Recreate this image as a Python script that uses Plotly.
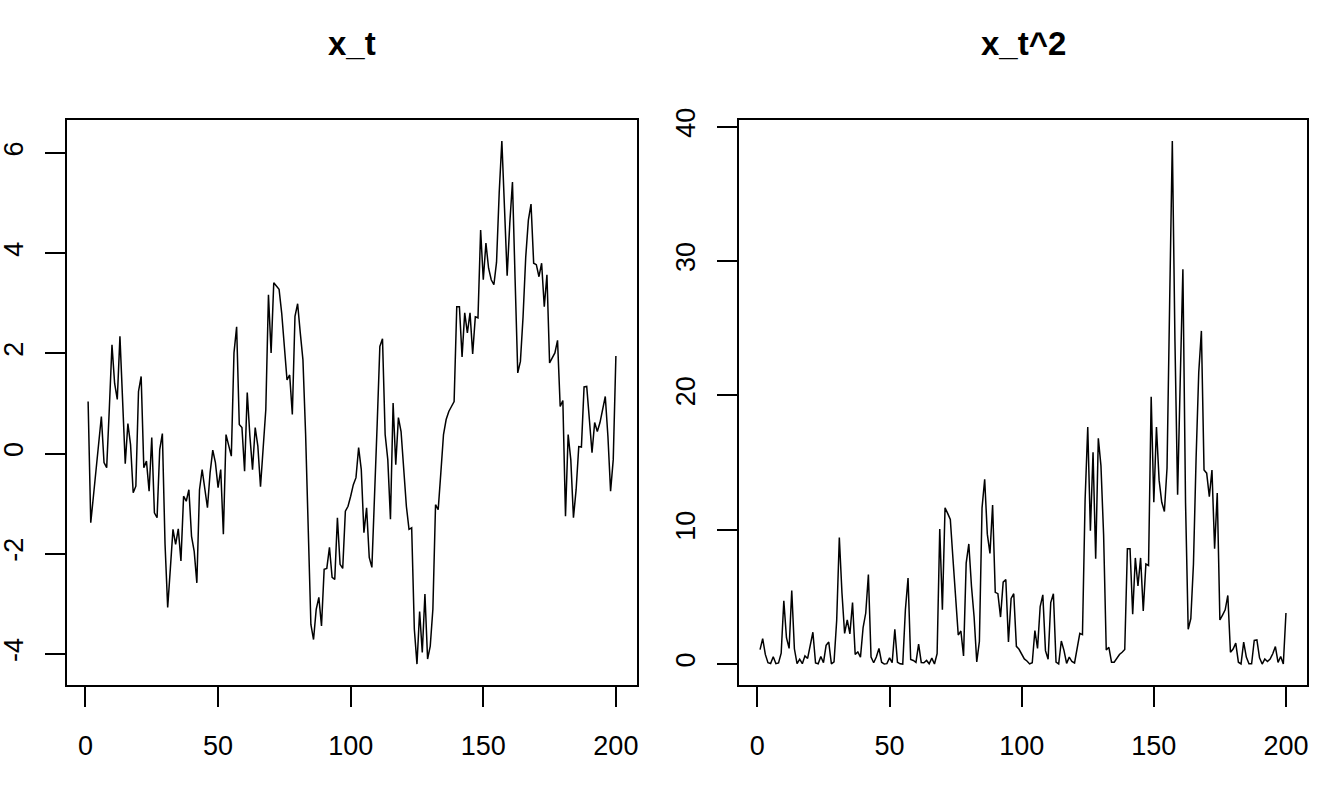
import plotly.graph_objects as go

t = list(range(1, 201))

x_t = [
    1.04, -1.38, -0.85, -0.32, 0.21, 0.74, -0.18, -0.28, 0.9, 2.17,
    1.4, 1.08, 2.34, 1.07, -0.2, 0.6, 0.18, -0.78, -0.65, 1.24,
    1.54, -0.28, -0.15, -0.75, 0.32, -1.18, -1.28, 0.08, 0.40, -1.8,
    -3.07, -2.3, -1.51, -1.81, -1.5, -2.14, -0.85, -0.95, -0.72, -1.65,
    -1.95, -2.58, -0.72, -0.32, -0.72, -1.08, -0.38, 0.07, -0.18, -0.68,
    -0.32, -1.61, 0.38, 0.15, -0.05, 2.01, 2.53, 0.58, 0.52, -0.35,
    1.22, 0.35, -0.32, 0.52, 0.15, -0.66, 0.08, 0.88, 3.17, 2.01,
    3.41, 3.35, 3.28, 2.8, 2.2, 1.47, 1.57, 0.78, 2.74, 2.99,
    2.41, 1.87, 0.4, -1.3, -3.41, -3.71, -3.11, -2.87, -3.44, -2.31,
    -2.29, -1.87, -2.47, -2.51, -1.28, -2.21, -2.29, -1.15, -1.05, -0.85,
    -0.62, -0.48, 0.12, -0.32, -1.58, -1.08, -2.07, -2.27, -1.0, 0.6,
    2.14, 2.29, 0.38, -0.12, -1.31, 1.01, -0.22, 0.72, 0.44, -0.28,
    -1.05, -1.51, -1.48, -3.5, -4.2, -3.15, -3.97, -2.8, -4.1, -3.84,
    -3.1, -1.02, -1.12, -0.38, 0.38, 0.68, 0.84, 0.94, 1.04, 2.93,
    2.93, 1.93, 2.81, 2.41, 2.81, 1.99, 2.73, 2.71, 4.46, 3.47,
    4.2, 3.7, 3.47, 3.37, 3.82, 5.2, 6.24, 4.9, 3.55, 4.6,
    5.42, 3.47, 1.61, 1.84, 2.73, 3.92, 4.66, 4.98, 3.8, 3.77,
    3.53, 3.8, 2.93, 3.57, 1.81, 1.91, 2.01, 2.26, 0.94, 1.06,
    -1.25, 0.38, -0.12, -1.28, -0.72, 0.14, 0.13, 1.33, 1.34, 0.68,
    0.02, 0.62, 0.44, 0.62, 0.88, 1.14, 0.34, -0.75, -0.12, 1.95,
]

x_t_sq = [
    1.08, 1.90, 0.72, 0.10, 0.04, 0.55, 0.03, 0.08, 0.81, 4.71,
    1.96, 1.17, 5.48, 1.14, 0.04, 0.36, 0.03, 0.61, 0.42, 1.54,
    2.37, 0.08, 0.02, 0.56, 0.10, 1.39, 1.64, 0.01, 0.16, 3.24,
    9.42, 5.29, 2.28, 3.28, 2.25, 4.58, 0.72, 0.90, 0.52, 2.72,
    3.80, 6.66, 0.52, 0.10, 0.52, 1.17, 0.14, 0.00, 0.03, 0.46,
    0.10, 2.59, 0.14, 0.02, 0.00, 4.04, 6.40, 0.34, 0.27, 0.12,
    1.49, 0.12, 0.10, 0.27, 0.02, 0.44, 0.01, 0.77, 10.05, 4.04,
    11.63, 11.22, 10.76, 7.84, 4.84, 2.16, 2.46, 0.61, 7.51, 8.94,
    5.81, 3.50, 0.16, 1.69, 11.63, 13.76, 9.67, 8.24, 11.83, 5.34,
    5.24, 3.50, 6.10, 6.30, 1.64, 4.88, 5.24, 1.32, 1.10, 0.72,
    0.38, 0.23, 0.01, 0.10, 2.50, 1.17, 4.28, 5.15, 1.00, 0.36,
    4.58, 5.24, 0.14, 0.01, 1.72, 1.02, 0.05, 0.52, 0.19, 0.08,
    1.10, 2.28, 2.19, 12.25, 17.64, 9.92, 15.76, 7.84, 16.81, 14.75,
    9.61, 1.04, 1.25, 0.14, 0.14, 0.46, 0.71, 0.88, 1.08, 8.58,
    8.58, 3.72, 7.90, 5.81, 7.90, 3.96, 7.45, 7.34, 19.89, 12.04,
    17.64, 13.69, 12.04, 11.36, 14.59, 27.04, 38.94, 24.01, 12.60, 21.16,
    29.38, 12.04, 2.59, 3.39, 7.45, 15.37, 21.72, 24.80, 14.44, 14.21,
    12.46, 14.44, 8.58, 12.74, 3.28, 3.65, 4.04, 5.11, 0.88, 1.12,
    1.56, 0.14, 0.01, 1.64, 0.52, 0.02, 0.02, 1.77, 1.80, 0.46,
    0.00, 0.38, 0.19, 0.38, 0.77, 1.30, 0.12, 0.56, 0.01, 3.80,
]

titles = ["x_t", "x_t^2"]
x_ticks = [0, 50, 100, 150, 200]
y1_ticks = [-4, -2, 0, 2, 4, 6]
y1_labels = ["-4", "-2", "0", "2", "4", "6"]
y2_ticks = [0, 10, 20, 30, 40]
y2_labels = ["0", "10", "20", "30", "40"]


def pad(lo, hi):
    d = (hi - lo) * 0.04
    return [lo - d, hi + d]


W, H = 1344, 806
FONT = "Liberation Sans, Arial, Helvetica, sans-serif"
TICKFONT = dict(family=FONT, size=27, color="black")

fig = go.Figure()
fig.add_trace(go.Scatter(x=t, y=x_t, mode="lines",
                         line=dict(color="black", width=1.5),
                         xaxis="x", yaxis="y", showlegend=False))
fig.add_trace(go.Scatter(x=t, y=x_t_sq, mode="lines",
                         line=dict(color="black", width=1.5),
                         xaxis="x2", yaxis="y2", showlegend=False))

ydom = [121 / H, 686 / H]
common_axis = dict(showline=True, mirror=True, linecolor="black", linewidth=1.5,
                   ticks="outside", ticklen=20, tickwidth=1.5, tickcolor="black",
                   showgrid=False, zeroline=False, tickfont=TICKFONT,
                   automargin=False)

fig.update_layout(
    template="none",
    width=W, height=H,
    margin=dict(l=0, r=0, t=0, b=0),
    paper_bgcolor="white", plot_bgcolor="white",
    xaxis=dict(domain=[67 / W, 637 / W], range=pad(1, 200), anchor="y",
               tickvals=x_ticks, ticktext=[str(v) for v in x_ticks],
               ticklabelstandoff=16, **common_axis),
    yaxis=dict(domain=ydom, range=pad(min(x_t), max(x_t)), anchor="x",
               tickvals=y1_ticks, ticktext=y1_labels, tickangle=-90,
               ticklabelstandoff=11, **common_axis),
    xaxis2=dict(domain=[739 / W, 1307 / W], range=pad(1, 200), anchor="y2",
                tickvals=x_ticks, ticktext=[str(v) for v in x_ticks],
                ticklabelstandoff=16, **common_axis),
    yaxis2=dict(domain=ydom, range=pad(min(x_t_sq), max(x_t_sq)), anchor="x2",
                tickvals=y2_ticks, ticktext=y2_labels, tickangle=-90,
                ticklabelstandoff=11, **common_axis),
)

for i, (title, cx) in enumerate(zip(titles, [352, 1023])):
    fig.add_annotation(text="<b>" + title + "</b>", x=cx / W, y=1 - 44 / H,
                       xref="paper", yref="paper", xanchor="center", yanchor="middle",
                       showarrow=False, font=dict(family=FONT, size=33, color="black"))

fig.write_html("out.html")
